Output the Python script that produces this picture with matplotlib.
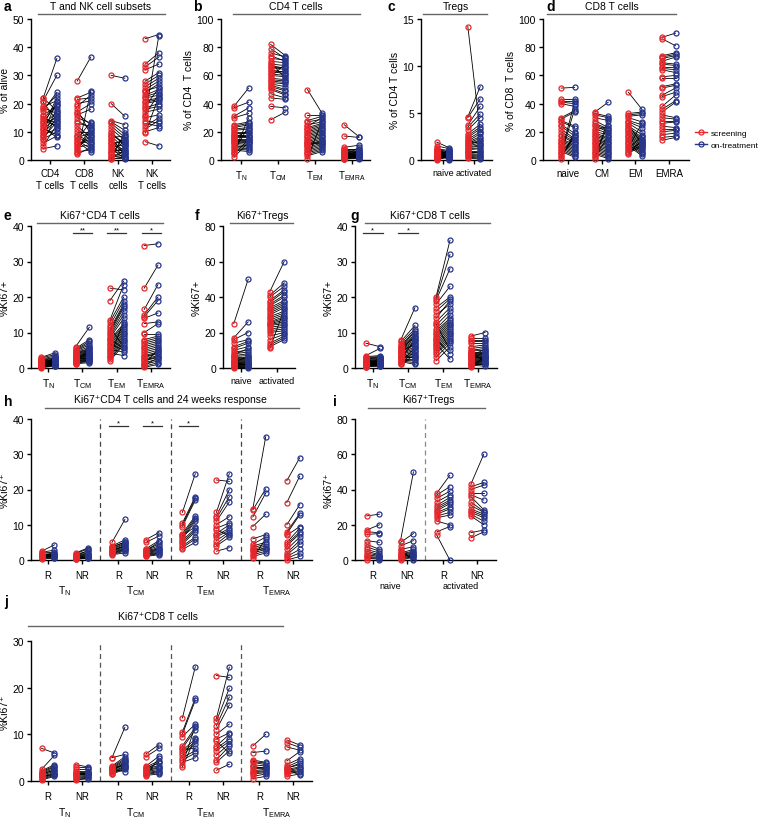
import matplotlib
matplotlib.use("Agg")
import matplotlib.pyplot as plt
from matplotlib.lines import Line2D
from matplotlib.transforms import blended_transform_factory

plt.rcParams["font.family"] = ["Liberation Sans", "DejaVu Sans"]
plt.rcParams["mathtext.default"] = "regular"
plt.rcParams["font.size"] = 7.5

RED = "#e8262b"
BLUE = "#27358a"
W, H = 760, 820

TN, TCM, TEM, TEMRA = r"$T_{N}$", r"$T_{CM}$", r"$T_{EM}$", r"$T_{EMRA}$"

# ---- panel a: T and NK cell subsets (% of alive)
A_CATS = ["CD4\nT cells", "CD8\nT cells", "NK\ncells", "NK\nT cells"]
A_SCR = [
    [22, 21, 20.5, 19, 18, 17.5, 16, 15, 14.5, 14, 13, 12.5, 12, 11, 10.5, 10, 9.5, 9, 8.5, 8, 7.5, 7, 6, 5, 4, 22, 18.5, 15.5, 13.5, 11.5],
    [28, 22, 21.5, 19, 18, 17, 16, 15, 14, 13, 12, 11, 10, 9, 8.5, 8, 7.5, 7, 6.5, 6, 5.5, 5, 4.5, 4, 3.5, 3, 2.5, 2, 20, 16.5],
    [30, 20, 14, 13.5, 13, 12, 11, 10, 9, 8.5, 8, 7, 6.5, 6, 5.5, 5, 4.5, 4, 3.5, 3, 2.5, 2, 1.5, 1, 0.5, 0.3, 9.5, 7.5, 0.8, 2.8],
    [43, 34, 33, 32, 28, 27, 26, 25, 24, 23, 22.5, 22, 21, 20, 19, 18.5, 18, 17, 16, 15, 14, 13, 12, 11, 10, 9.5, 6.5, 24.5, 20.5, 15.5],
]
A_ON = [
    [36, 30, 14, 21, 23, 24, 19, 13, 20, 12, 15, 17, 22, 9, 16, 20.5, 14.5, 11, 18, 13.5, 10, 15.5, 8.5, 12.5, 5, 17.5, 16.5, 11.5, 19.5, 8],
    [36.5, 24, 22, 23, 9, 20, 18, 13, 11, 12, 8, 7, 10, 6, 5, 9.5, 13.5, 4, 3, 6.5, 7.5, 8.5, 5.5, 11.5, 10.5, 3.5, 24.5, 4.5, 21, 12.5],
    [29, 15.5, 12.5, 10.5, 9, 8, 7, 5, 6, 4, 8.5, 3, 2, 6.5, 1, 7.5, 5.5, 0.5, 3.5, 2.5, 4.5, 1.5, 0.8, 9.5, 0.6, 1.2, 5.2, 2.2, 3.2, 6.8],
    [44.5, 38, 36.5, 34, 31, 30, 29, 28, 27, 25, 24, 23, 22, 21, 25.5, 20, 19, 18, 23.5, 16, 13, 12, 15, 14, 11.5, 22.5, 5, 26, 21.5, 44],
]

# ---- panel b: CD4 T cell subsets
B_CATS = [TN, TCM, TEM, TEMRA]
B_SCR = [
    [38, 37, 31, 30, 25, 24, 23, 22, 21, 20, 19, 18, 17, 16, 15.5, 15, 14, 13.5, 13, 12, 11, 10, 9, 8, 7, 6, 5, 4, 2, 17.5],
    [82, 79, 76, 74, 72, 70, 69, 68, 67, 66, 65, 64, 63, 62, 61, 60, 59, 58, 57, 56, 55, 54, 53, 52, 51, 50, 47, 44, 38, 28.5],
    [50, 32, 28, 27, 25, 23, 22, 21, 20, 19, 18, 17, 16, 15, 14, 13, 12, 11, 10, 9, 8, 7, 6, 5, 4, 3, 1, 24, 12.5, 10.5],
    [25, 17, 9, 8, 7.5, 7, 6.5, 6, 5.5, 5, 4.5, 4, 3.5, 3, 2.5, 2, 1.5, 1, 0.8, 0.5, 5.2, 3.2, 2.2, 1.2, 4.2, 6.2, 2.8, 1.8, 3.8, 0.6],
]
B_ON = [
    [51, 41, 37, 33, 27, 26, 25, 23, 22, 20, 19, 18, 17, 16, 21, 15, 14, 13, 12, 11, 10, 9, 8, 7, 6, 24, 30, 14.5, 12.5, 16.5],
    [74, 72, 73, 70, 71, 69, 58, 67, 65, 64, 66, 62, 61, 63, 60, 59, 68, 57, 56, 55, 54, 52, 50, 49, 47, 46, 44, 43, 37, 34],
    [33, 32, 31, 29, 27, 26, 25, 24, 23, 22, 21, 20, 19, 18, 17, 16, 15, 14, 13, 12, 11, 10, 9, 8, 7, 6, 28, 30, 11.5, 13.5],
    [16.5, 16, 10.5, 8, 7, 6, 5.5, 5, 4.5, 4, 3.5, 3, 2.5, 2, 1.5, 1, 6.5, 4.8, 3.2, 2.2, 1.2, 3.8, 2.8, 7.5, 5.2, 1.8, 9, 2.4, 3.4, 1.4],
]

# ---- panel c: Tregs
C_CATS = ["naive", "activated"]
C_SCR = [
    [1.9, 1.5, 1.2, 1.1, 1.0, 0.9, 0.8, 0.7, 0.6, 0.5, 0.4, 0.3, 0.2, 0.1, 0.05, 1.3, 0.95, 0.75, 0.55, 0.35, 0.85, 0.65, 0.45, 0.25, 0.15, 1.05, 0.7, 0.5, 0.3, 0.9],
    [14.2, 4.6, 4.5, 3.7, 3.5, 3.2, 2.8, 2.6, 2.4, 2.2, 2.0, 1.9, 1.8, 1.7, 1.6, 1.5, 1.4, 1.3, 1.2, 1.1, 1.0, 0.9, 0.8, 0.7, 0.6, 0.5, 0.4, 0.3, 0.2, 2.1],
]
C_ON = [
    [1.3, 1.2, 1.0, 0.9, 0.8, 0.75, 0.7, 0.65, 0.6, 0.55, 0.5, 0.45, 0.4, 0.35, 0.3, 0.25, 0.2, 0.1, 0.05, 1.1, 0.85, 0.95, 0.6, 0.7, 0.5, 0.4, 0.3, 0.2, 0.8, 0.15],
    [3.0, 7.8, 6.5, 5.7, 4.9, 4.5, 3.8, 3.5, 3.3, 3.0, 2.8, 2.5, 2.3, 2.1, 2.0, 1.8, 1.6, 1.5, 1.3, 1.2, 1.0, 0.9, 0.8, 0.6, 0.5, 0.4, 0.3, 0.2, 0.1, 1.7],
]

# ---- panel d: CD8 T cell subsets
D_CATS = ["naive", "CM", "EM", "EMRA"]
D_SCR = [
    [51, 43, 42, 41, 40, 30, 29, 28, 27, 25, 24, 22, 20, 18, 17, 15, 14, 13, 12, 11, 10, 9, 8, 7, 6, 5, 4, 3, 2, 1],
    [34, 33, 32, 30, 28, 26, 25, 24, 22, 20, 19, 18, 17, 16, 15, 14, 13, 12, 11, 10, 9, 8, 7, 6, 5, 4, 3, 2, 1, 21],
    [48, 33, 32, 31, 30, 28, 27, 26, 24, 23, 22, 21, 20, 19, 18, 17, 16, 15, 14, 13, 12, 11, 10, 9, 8, 7, 6, 5, 4, 25],
    [87, 86, 74, 73, 72, 70, 69, 68, 66, 65, 64, 59, 58, 52, 51, 46, 45, 38, 36, 34, 32, 30, 28, 26, 24, 22, 20, 18, 16, 14],
]
D_ON = [
    [51.5, 43, 42, 40, 38, 35, 34, 24, 23, 19, 17, 15, 14, 13, 12, 11, 10, 9, 8, 7, 6, 5, 4, 3, 2, 41, 36, 16, 18, 20],
    [41, 31, 30, 28, 23, 22, 21, 20, 19, 18, 16, 15, 14, 13, 12, 11, 10, 9, 8, 7, 6, 5, 4, 3, 2, 1, 25, 17, 29, 24],
    [36, 34, 33, 32, 27, 25, 23, 20, 18, 16, 15, 14, 13, 12, 11, 10, 9, 8, 7, 6, 5, 4, 3, 26, 17, 12.5, 10.5, 9.5, 14.5, 11.5],
    [90, 81, 76, 75, 74, 73, 68, 67, 66, 64, 62, 60, 58, 54, 53, 51, 48, 46, 42, 41, 30, 29, 28, 27, 23, 22, 21, 19, 17, 16],
]

# ---- panel e: Ki67+ CD4 T cells
E_SCR = [
    [3, 2.8, 2.5, 2.3, 2.1, 2.0, 1.8, 1.6, 1.5, 1.4, 1.3, 1.2, 1.1, 1.0, 0.9, 0.8, 0.7, 0.6, 0.5, 0.4, 0.3, 0.2, 0.1, 1.7, 1.9, 2.2, 0.95, 1.15, 0.45, 0.25],
    [6, 5.5, 5.2, 5, 4.8, 4.5, 4.3, 4.1, 4, 3.8, 3.6, 3.5, 3.3, 3.1, 3, 2.8, 2.6, 2.5, 2.3, 2.1, 2, 1.8, 1.6, 1.4, 1.2, 1, 2.2, 3.2, 2.7, 1.9],
    [22.5, 19, 13.5, 13, 12, 11, 10.5, 10, 9.5, 9, 8.5, 8, 7.5, 7, 6.5, 6, 5.5, 5, 4.5, 4, 3.5, 3, 2.5, 2, 11.5, 8.2, 6.8, 5.2, 4.2, 3.2],
    [34.5, 22.5, 16.5, 15, 14.5, 14, 12.5, 10, 9.5, 8, 7.5, 7, 6.5, 6, 5.5, 5, 4.5, 4, 3.5, 3, 2.5, 2, 1.5, 1, 0.5, 0.2, 3.2, 2.2, 1.2, 0.8],
]
E_ON = [
    [4.3, 3.8, 3.4, 3.0, 2.8, 2.5, 2.3, 2.1, 2.0, 1.9, 1.8, 1.7, 1.6, 1.5, 1.4, 1.3, 1.2, 1.1, 1.0, 0.9, 0.8, 0.7, 0.6, 0.5, 2.2, 1.5, 1.8, 1.2, 2.6, 3.2],
    [11.5, 8, 7.5, 7, 6.5, 6, 5.5, 5.3, 5, 4.8, 4.5, 4.2, 4, 3.8, 3.6, 3.4, 3.2, 3, 2.8, 2.6, 2.4, 2.2, 2, 1.8, 1.5, 5.8, 4.6, 3.5, 2.7, 2.1],
    [22, 24.5, 23.5, 20, 19, 18, 17.5, 17, 16, 15, 14, 12.5, 12, 11.5, 11, 10.5, 10, 9.5, 9, 8.5, 8, 7.5, 7, 6.5, 6, 5.5, 5, 4.5, 3.5, 13],
    [35, 29, 23.5, 20, 19, 15.5, 13, 12.5, 9.5, 9, 8.5, 8, 7.5, 7, 6.5, 6, 5.5, 5, 4.5, 4, 3.5, 3, 2.5, 2, 1.5, 1, 4.2, 3.2, 5.2, 2.8],
]
E_SIG = [(1, "**"), (2, "**"), (3, "*")]

# ---- panel f: Ki67+ Tregs
F_SCR = [
    [25, 17, 16, 14, 12, 11, 10, 9, 8, 7, 6.5, 6, 5.5, 5, 4.5, 4, 3.5, 3, 2.5, 2, 1.5, 1, 0.5, 0, 7.5, 3.2, 2.2, 1.2, 0.8, 4.2],
    [43, 41, 40, 38, 37, 36, 35, 34, 33, 32, 31, 30, 29, 28, 27, 26, 25.5, 25, 24.5, 24, 23, 22, 21, 20, 18, 16, 14, 13, 12, 11],
]
F_ON = [
    [50, 26, 20, 16, 15, 14, 12, 10, 9, 8, 7, 6, 5.5, 5, 4.5, 4, 3.5, 3, 2.5, 2, 1.5, 1, 0.5, 0.2, 11, 6.5, 3.2, 2.2, 1.2, 0.8],
    [60, 48, 46, 44, 43, 41, 40, 38, 37, 36, 35, 34, 32, 31, 30, 29, 28, 27, 26, 25, 24, 23, 22, 21, 20, 19, 18, 17, 16, 33],
]

# ---- panel g: Ki67+ CD8 T cells
G_SCR = [
    [7, 3.5, 3.2, 3, 2.8, 2.6, 2.4, 2.2, 2, 1.9, 1.8, 1.7, 1.6, 1.5, 1.4, 1.3, 1.2, 1.1, 1, 0.9, 0.8, 0.7, 0.6, 0.5, 0.4, 0.3, 0.2, 2.1, 1.45, 0.85],
    [8, 7.5, 7, 6.5, 6, 5.8, 5.5, 5.2, 5, 4.8, 4.5, 4.2, 4, 3.8, 3.5, 3.2, 3, 2.8, 2.5, 2.2, 2, 1.8, 1.5, 1.2, 1, 3.3, 4.6, 2.7, 5.4, 6.2],
    [20, 19.5, 19, 18, 17, 16, 14, 13, 12, 11, 10.5, 10, 9.5, 9, 8.5, 8, 7.5, 7, 6.5, 6, 5.5, 5, 4.5, 4, 3, 2, 12.5, 8.2, 6.8, 15],
    [9, 8.5, 8, 7.5, 7, 6, 5.5, 5, 4.8, 4.5, 4.2, 4, 3.8, 3.5, 3.2, 3, 2.8, 2.5, 2.2, 2, 1.8, 1.5, 1.2, 1, 0.8, 0.5, 0.2, 2.6, 3.6, 4.6],
]
G_ON = [
    [6, 5.5, 3.5, 3.2, 3, 2.8, 2.6, 2.4, 2.2, 2, 1.9, 1.8, 1.7, 1.6, 1.5, 1.4, 1.3, 1.2, 1.1, 1, 0.9, 0.8, 0.7, 0.6, 0.5, 2.9, 2.3, 1.75, 1.35, 1.05],
    [17, 12, 11, 10, 9.5, 9, 8.5, 8, 7.5, 7, 6.5, 6, 5.5, 5, 4.5, 4, 3.5, 3, 2.5, 2, 1.5, 1, 5.8, 4.8, 3.8, 2.8, 6.8, 7.8, 8.8, 10.5],
    [36, 32, 28, 23, 20, 19.5, 19, 17, 16, 15, 14, 13.5, 13, 12.5, 12, 11.5, 11, 10.5, 10, 9.5, 9, 8.5, 8, 7.5, 7, 6, 5, 4, 2.5, 18],
    [10, 8.5, 8, 7.5, 7, 6.5, 6, 5.5, 5, 4.5, 4.2, 4, 3.8, 3.5, 3.2, 3, 2.8, 2.5, 2.2, 2, 1.8, 1.5, 1.2, 1, 0.5, 3.3, 2.7, 4.7, 5.2, 1.7],
]
G_SIG = [(0, "*"), (1, "*")]

# ---- panel h: Ki67+ CD4 by 24-week response (R, NR per subset)
RESP = ["R", "NR"]
H_SCR = [
    [2.5, 2.2, 2, 1.8, 1.6, 1.4, 1.2, 1, 0.9, 0.8, 0.7, 0.5, 0.3, 1.5, 1.1],
    [2, 1.8, 1.6, 1.4, 1.2, 1, 0.9, 0.8, 0.7, 0.6, 0.5, 0.4, 0.3, 0.2, 1.1],
    [5, 4, 3.5, 3.2, 3, 2.8, 2.6, 2.4, 2.2, 2, 1.8, 1.6, 1.5, 3.8, 2.5],
    [5.8, 5, 3.2, 3, 2.8, 2.6, 2.4, 2.2, 2, 1.8, 1.6, 1.4, 1.2, 1, 2.5],
    [13.5, 10.5, 10, 9.5, 7.5, 7, 6.5, 6, 5.5, 5, 4.5, 4, 3.5, 3, 6.8],
    [22.7, 13.5, 12.5, 11.8, 11, 10, 9, 7.5, 7, 6.5, 5.5, 4.5, 4, 2.5, 8.5],
    [14.5, 14.2, 12.2, 9.5, 6, 4.5, 4, 3.5, 3, 2.5, 2, 1.5, 1, 0.5, 2.8],
    [22.5, 16.3, 10, 8, 7.5, 7, 5, 4.5, 4, 3, 2, 1.5, 1, 0.5, 0],
]
H_ON = [
    [4.3, 2.8, 2.2, 1.8, 1.6, 1.4, 1.2, 1.1, 1, 0.9, 0.8, 0.6, 0.5, 2, 1.3],
    [3.5, 3.2, 2.5, 2, 1.8, 1.6, 1.4, 1.2, 1, 0.9, 0.8, 0.7, 0.6, 0.5, 2.8],
    [11.5, 5.7, 5.2, 4.8, 4.5, 4, 3.8, 3.5, 3.2, 3, 2.8, 2.5, 2, 5, 4.2],
    [7.8, 6.8, 5.5, 4.5, 4, 3.5, 3.2, 3, 2.8, 2.5, 2.2, 2, 1.8, 1.5, 5.2],
    [24.5, 18, 17.5, 17, 12.5, 12, 11.5, 11, 9, 8.5, 8, 6.5, 6, 5, 9.5],
    [22.3, 24.5, 20, 18, 16.5, 12.3, 10.5, 10, 9, 8.5, 8, 7.5, 6.5, 3.5, 7],
    [35, 20.2, 19, 13, 7.2, 6.5, 5, 4.5, 4, 3.5, 3, 2.5, 2, 6, 3.2],
    [29, 23.8, 15.7, 13.2, 12.8, 9.5, 9, 8, 7.5, 6.5, 5.5, 4.5, 3, 2, 1],
]
H_SIG = [(2, "*"), (3, "*"), (4, "*")]

# ---- panel i: Ki67+ Tregs by response
I_GROUPS = ["naive", "activated"]
I_SCR = [
    [25, 17, 16, 14.5, 11, 9, 7.5, 6, 5, 4, 3, 2, 1.5, 1, 0],
    [11, 10, 8, 6, 4, 3.5, 3, 2.5, 2, 1.5, 1, 0.5, 0, 4.5, 5.5],
    [38, 37, 35, 33, 31, 30, 29, 28, 27, 26, 25, 24, 22, 16, 14],
    [43, 41.5, 40, 38, 37, 36, 33, 31, 29, 28, 27, 26, 25, 15.5, 12.5],
]
I_ON = [
    [26, 20, 15.5, 15, 10, 6, 5, 4, 3, 2.5, 2, 1.5, 1, 0.5, 0],
    [50, 15, 11, 7.5, 6, 5, 4.5, 4, 3.5, 3, 2.5, 2, 1.5, 0.5, 0],
    [48, 41.5, 39, 37, 35.5, 34, 33, 32, 30, 29, 27, 25.5, 20, 19, 0],
    [60, 44, 42.5, 38, 34, 28.5, 27.5, 27, 26, 25, 24, 22, 20, 17, 16],
]

# ---- panel j: Ki67+ CD8 by response
J_SCR = [
    [7, 2.5, 2.2, 2, 1.8, 1.6, 1.4, 1.2, 1, 0.8, 0.6, 0.4, 0.2, 1.5, 0.9],
    [3.5, 3, 2.5, 2.2, 2, 1.8, 1.6, 1.4, 1.2, 1, 0.8, 0.6, 0.4, 0.2, 1.5],
    [5, 5, 3.2, 3, 2.8, 2.6, 2.4, 2.2, 2, 1.8, 1.6, 1.5, 2.5, 2.1, 2.9],
    [5.8, 5.2, 3.2, 3, 2.8, 2.6, 2.4, 2.2, 2, 1.8, 1.6, 1.4, 1.2, 1, 2.5],
    [13.5, 10.5, 10, 9.5, 7.5, 7, 6.5, 6, 5.5, 5, 4.5, 4, 3.5, 3, 6.8],
    [22.6, 13.4, 12.8, 11.8, 11, 10, 9, 7.5, 7, 6.5, 5.5, 4.5, 4, 2.3, 8.5],
    [7.5, 6.1, 4.5, 4.2, 4, 3.5, 3, 2.6, 2.2, 2, 1.8, 1.5, 1, 0.5, 3.2],
    [8.8, 8.2, 7.3, 4.3, 3.5, 3, 2.8, 2.5, 2.2, 2, 1.8, 1.5, 1, 2.4, 2.7],
]
J_ON = [
    [6, 5.5, 3.5, 3.2, 3, 2.7, 2.4, 2.1, 1.8, 1.6, 1.4, 1.2, 1, 2.3, 1.5],
    [3, 2.8, 2.5, 2.2, 2, 1.8, 1.6, 1.5, 1.4, 1.2, 1, 0.8, 0.6, 0.5, 1.7],
    [11.5, 5.7, 5.2, 4.8, 4.5, 4.2, 3.8, 3.5, 3.2, 3, 2.8, 2.5, 2, 4, 3.3],
    [7.8, 7, 5.3, 4.3, 3.8, 3.3, 3, 2.8, 2.5, 2.2, 2, 1.8, 1.5, 5, 4],
    [24.5, 17.8, 17.3, 12.2, 11.5, 11, 9, 8.5, 8, 6.5, 6, 5, 11.8, 9.3, 7],
    [22.2, 24.4, 19.9, 18, 16.3, 12.2, 10.3, 10, 9, 8.5, 8, 7.5, 6.5, 3.6, 6],
    [10, 6.4, 4, 3.8, 3.5, 3.2, 3, 2.8, 2.5, 2.2, 2, 1.8, 1.5, 1, 2.6],
    [7.7, 7.2, 6.6, 6.3, 4.8, 4.3, 3.5, 3, 2.8, 2.5, 2.2, 2, 1.5, 1.3, 3.8],
]
SUBSETS = [TN, TCM, TEM, TEMRA]

CAT_FS = 6.5


def add_axes_px(fig, left, right, top, bottom):
    return fig.add_axes([left / W, 1 - bottom / H, (right - left) / W, (bottom - top) / H])


def style(ax, ymax, ystep, xlim, xfs=CAT_FS):
    ax.set_ylim(0, ymax)
    ax.set_yticks(range(0, ymax + 1, ystep))
    ax.set_xlim(*xlim)
    for s in ("top", "right"):
        ax.spines[s].set_visible(False)
    for s in ("left", "bottom"):
        ax.spines[s].set_linewidth(1.0)
    ax.tick_params(length=3, width=1.0, pad=2, labelsize=7.5)
    ax.tick_params(axis="x", labelsize=xfs, pad=3)


def paired(ax, xs, scr, on, off=0.2):
    for x, r, b in zip(xs, scr, on):
        for rv, bv in zip(r, b):
            ax.plot([x - off, x + off], [rv, bv], color="black", lw=0.6, zorder=2, clip_on=False)
        ax.plot([x - off] * len(r), r, "o", mfc="none", mec=RED, mew=0.9, ms=3.6, zorder=3, clip_on=False)
        ax.plot([x + off] * len(b), b, "o", mfc="none", mec=BLUE, mew=0.9, ms=3.6, zorder=3, clip_on=False)


def sig_bars(ax, xs, sigs, y):
    for idx, label in sigs:
        x = xs[idx]
        ax.plot([x - 0.28, x + 0.28], [y, y], color="#333333", lw=0.9, clip_on=False)
        ax.text(x, y, label, ha="center", va="bottom", fontsize=5.5)


def header(fig, text, x0, x1, yline, xtext, ytext):
    fig.add_artist(Line2D([x0 / W, x1 / W], [1 - yline / H, 1 - yline / H], color="#666666", lw=1.0))
    fig.text(xtext / W, 1 - ytext / H, text, ha="center", va="center", fontsize=7.5)


def letter(fig, ch, x, y):
    fig.text(x / W, 1 - y / H, ch, ha="left", va="center", fontsize=10, fontweight="bold")


fig = plt.figure(figsize=(W / 100, H / 100), dpi=100)

# row 1
ax = add_axes_px(fig, 31, 170, 20, 161)
paired(ax, range(4), A_SCR, A_ON)
style(ax, 50, 10, (-0.56, 3.53), xfs=7)
ax.set_xticks(range(4), A_CATS)
ax.set_ylabel("% of alive", labelpad=2)

ax = add_axes_px(fig, 221, 370, 20, 161)
paired(ax, range(4), B_SCR, B_ON)
style(ax, 100, 20, (-0.55, 3.5), xfs=7)
ax.set_xticks(range(4), B_CATS)
ax.set_ylabel("% of CD4  T cells", labelpad=2)

ax = add_axes_px(fig, 421, 492, 20, 161)
paired(ax, range(2), C_SCR, C_ON)
style(ax, 15, 5, (-0.71, 1.58))
ax.set_xticks(range(2), C_CATS)
ax.set_ylabel("% of CD4 T cells", labelpad=2)

ax = add_axes_px(fig, 543, 689, 20, 161)
paired(ax, range(4), D_SCR, D_ON)
style(ax, 100, 20, (-0.74, 3.6), xfs=7)
ax.set_xticks(range(4), D_CATS)
ax.set_ylabel("% of CD8  T cells", labelpad=2)

# row 2
ax = add_axes_px(fig, 31, 170, 227, 369)
paired(ax, range(4), E_SCR, E_ON)
style(ax, 40, 10, (-0.5, 3.55), xfs=7.5)
ax.set_xticks(range(4), SUBSETS)
ax.set_ylabel("%Ki67+", labelpad=2)
sig_bars(ax, range(4), E_SIG, 38)

ax = add_axes_px(fig, 223, 295, 227, 369)
paired(ax, range(2), F_SCR, F_ON)
style(ax, 80, 20, (-0.5, 1.5))
ax.set_xticks(range(2), C_CATS)
ax.set_ylabel("%Ki67+", labelpad=2)

ax = add_axes_px(fig, 355, 497, 227, 369)
paired(ax, range(4), G_SCR, G_ON)
style(ax, 40, 10, (-0.51, 3.54), xfs=7.5)
ax.set_xticks(range(4), SUBSETS)
ax.set_ylabel("%Ki67+", labelpad=2)
sig_bars(ax, range(4), G_SIG, 38)


def response_panel(ax, scr, on, groups, ymax, ystep, xlim, glabel_y, dash_color, gfs):
    pos = []
    for g in range(len(groups)):
        pos += [g * 2.07, g * 2.07 + 1]
    paired(ax, pos, scr, on, off=0.19)
    style(ax, ymax, ystep, xlim, xfs=7)
    ax.set_xticks(pos, RESP * len(groups))
    ax.tick_params(axis="x", pad=4)
    trans = blended_transform_factory(ax.transData, ax.transAxes)
    for g, name in enumerate(groups):
        ax.text(g * 2.07 + 0.5, glabel_y, name, transform=trans, ha="center", va="center", fontsize=gfs)
        if g > 0:
            ax.axvline(g * 2.07 - 0.535, color=dash_color, lw=0.9, ls=(0, (4, 3)))
    ax.set_ylabel("%Ki67⁺", labelpad=2)
    return pos


ax = add_axes_px(fig, 31, 312, 420, 561)
pos = response_panel(ax, H_SCR, H_ON, SUBSETS, 40, 10, (-0.5, 7.76), -0.215, "#444444", 7.5)
sig_bars(ax, pos, H_SIG, 38)

ax = add_axes_px(fig, 355, 496, 420, 561)
response_panel(ax, I_SCR, I_ON, I_GROUPS, 80, 20, (-0.53, 3.62), -0.18, "#888888", CAT_FS)

ax = add_axes_px(fig, 31, 312, 642, 782)
response_panel(ax, J_SCR, J_ON, SUBSETS, 30, 10, (-0.5, 7.76), -0.22, "#555555", 7.5)

# headers
header(fig, "T and NK cell subsets", 38, 165, 15, 101, 7)
header(fig, "CD4 T cells", 233, 360, 15, 296, 7)
header(fig, "Tregs", 423, 487, 15, 456, 7)
header(fig, "CD8 T cells", 547, 676, 15, 612, 7)
header(fig, "Ki67⁺CD4 T cells", 37, 163, 224, 100, 216)
header(fig, "Ki67⁺Tregs", 230, 293, 224, 262, 216)
header(fig, "Ki67⁺CD8 T cells", 365, 490, 224, 430, 216)
header(fig, "Ki67⁺CD4 T cells and 24 weeks response", 45, 299, 409, 170, 400)
header(fig, "Ki67⁺Tregs", 368, 485, 409, 428, 400)
header(fig, "Ki67⁺CD8 T cells", 28, 283, 627, 158, 617)

for ch, x, y in [("a", 4, 7), ("b", 193, 7), ("c", 388, 7), ("d", 546, 7), ("e", 4, 216),
                 ("f", 195, 216), ("g", 350, 216), ("h", 4, 402), ("i", 333, 402), ("j", 4, 602)]:
    letter(fig, ch, x, y)

handles = [
    Line2D([], [], color=RED, marker="o", mfc="none", mec=RED, mew=0.9, ms=3.6, lw=1.0),
    Line2D([], [], color=BLUE, marker="o", mfc="none", mec=BLUE, mew=0.9, ms=3.6, lw=1.0),
]
fig.legend(handles, ["screening", "on-treatment"], loc="center left", bbox_to_anchor=(692 / W, 1 - 140 / H),
           frameon=False, handlelength=1.4, handletextpad=0.4, labelspacing=0.6, fontsize=6.0, borderaxespad=0)

fig.savefig("out.png", dpi=100)
